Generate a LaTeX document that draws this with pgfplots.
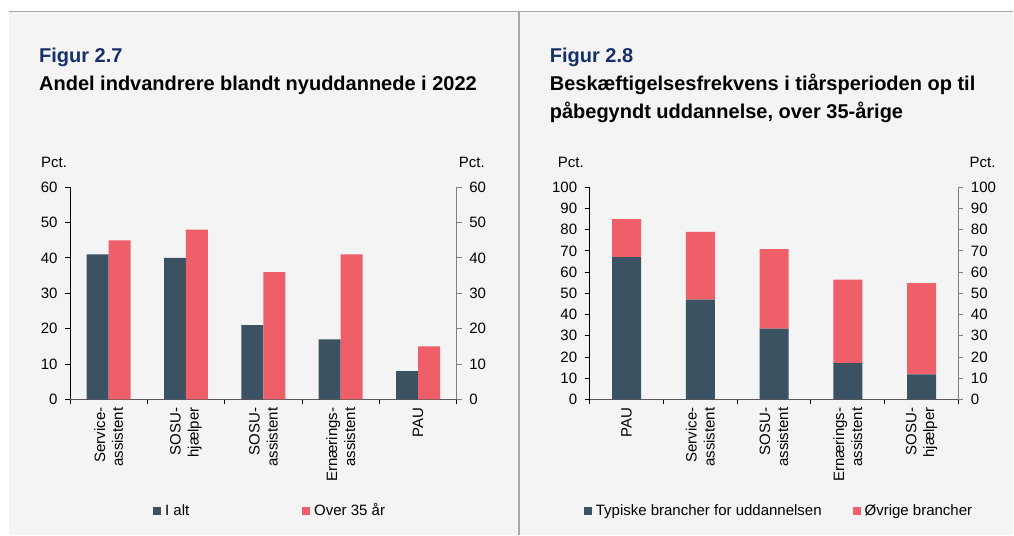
\documentclass[border=0pt]{standalone}
\usepackage{fontspec}
\setmainfont{Liberation Sans}
\usepackage{pgfplots}
\pgfplotsset{compat=1.18}
\definecolor{cdark}{HTML}{3B5262}
\definecolor{cred}{HTML}{EF5F6A}
\definecolor{cbg}{HTML}{F4F4F4}
\definecolor{cframe}{HTML}{A8A8A8}
\definecolor{cnavy}{HTML}{15306B}
\definecolor{caxis}{HTML}{595959}
\definecolor{caxisr}{HTML}{808080}
\pgfplotsset{
  mybase/.style={
    scale only axis, anchor=south west,
    xmin=0.5, xmax=5.5, ymin=0,
    tick align=outside, major tick length=5bp,
    ticklabel style={font=\fontsize{15bp}{18bp}\selectfont},
    /pgf/number format/assume math mode=true,
    tick style={line width=0.9bp},
    axis line style={line width=0.9bp},
  },
  mymain/.style={
    mybase,
    axis x line*=bottom, axis y line*=left,
    x axis line style={draw=caxis},
    y axis line style={draw=black},
    tick style={draw=black},
    yticklabel style={xshift=-4bp},
    xtick={0.5,1.5,2.5,3.5,4.5,5.5}, xticklabels={},
    extra x tick style={major tick length=0pt},
    xticklabel style={rotate=90, anchor=east, align=right, inner sep=0pt, xshift=-8bp},
    legend columns=2,
  },
  myright/.style={
    mybase,
    axis x line=none, axis y line*=right,
    y axis line style={draw=caxisr},
    tick style={draw=caxisr},
    yticklabel style={xshift=4bp},
  },
}
\begin{document}
\begin{tikzpicture}[x=1bp,y=1bp]
\fill[white] (0,0) rectangle (1014,535);
\fill[cbg] (9,0) rectangle (1014,523.5);
\draw[cframe, line width=1.2bp] (9,523.5) -- (1014,523.5);
\draw[cframe, line width=1.2bp] (519.3,0) -- (519.3,523.5);
% titles
\node[anchor=base west, inner sep=0pt, font=\fontsize{20bp}{24bp}\selectfont\bfseries, text=cnavy] at (39,472) {Figur 2.7};
\node[anchor=base west, inner sep=0pt, font=\fontsize{20bp}{24bp}\selectfont\bfseries] at (39,444) {Andel indvandrere blandt nyuddannede i 2022};
\node[anchor=base west, inner sep=0pt, font=\fontsize{20bp}{24bp}\selectfont\bfseries, text=cnavy] at (550,472) {Figur 2.8};
\node[anchor=base west, inner sep=0pt, font=\fontsize{20bp}{24bp}\selectfont\bfseries] at (550,444) {Beskæftigelsesfrekvens i tiårsperioden op til};
\node[anchor=base west, inner sep=0pt, font=\fontsize{20bp}{24bp}\selectfont\bfseries] at (550,416) {påbegyndt uddannelse, over 35-årige};
% Pct labels
\node[anchor=base west, inner sep=0pt, font=\fontsize{15bp}{18bp}\selectfont] at (41,367) {Pct.};
\node[anchor=base west, inner sep=0pt, font=\fontsize{15bp}{18bp}\selectfont] at (459,367) {Pct.};
\node[anchor=base west, inner sep=0pt, font=\fontsize{15bp}{18bp}\selectfont] at (558,367) {Pct.};
\node[anchor=base west, inner sep=0pt, font=\fontsize{15bp}{18bp}\selectfont] at (970,367) {Pct.};

% ---------- Figure 2.7 ----------
\begin{axis}[mymain, at={(70bp,135.3bp)}, width=387bp, height=212.4bp, ymax=60,
  ytick={0,10,...,60},
  extra x ticks={1,2,3,4,5},
  extra x tick labels={{Service-\\assistent},{SOSU-\\hjælper},{SOSU-\\assistent},{Ernærings-\\assistent},{PAU}},
  ybar=0pt, bar width=22bp,
  every axis plot post/.append style={/pgfplots/legend image code/.code={\fill[##1] (0bp,-4bp) rectangle (8bp,4bp);}},
  legend style={at={(0.2145,-0.524)}, anchor=west, draw=none, fill=none, inner sep=0pt,
    nodes={inner sep=0pt, anchor=west}, font=\fontsize{15bp}{18bp}\selectfont,
    /tikz/every odd column/.style={column sep=4bp},
    /tikz/every even column/.style={column sep=113bp}},
]
\addplot[fill=cdark, draw=none] coordinates {(1,41) (2,40) (3,21) (4,17) (5,8)};
\addlegendentry{I alt}
\addplot[fill=cred, draw=none] coordinates {(1,45) (2,48) (3,36) (4,41) (5,15)};
\addlegendentry{Over 35 år}
\end{axis}
\begin{axis}[myright, at={(70bp,135.3bp)}, width=387bp, height=212.4bp, ymax=60,
  ytick={0,10,...,60}]
\end{axis}

% ---------- Figure 2.8 ----------
\begin{axis}[mymain, at={(590bp,135.3bp)}, width=369bp, height=212.4bp, ymax=100,
  ytick={0,10,...,100},
  extra x ticks={1,2,3,4,5},
  extra x tick labels={{PAU},{Service-\\assistent},{SOSU-\\assistent},{Ernærings-\\assistent},{SOSU-\\hjælper}},
  ybar stacked, bar width=29bp,
  every axis plot post/.append style={/pgfplots/legend image code/.code={\fill[##1] (0bp,-4bp) rectangle (8bp,4bp);}},
  legend style={at={(-0.01626,-0.524)}, anchor=west, draw=none, fill=none, inner sep=0pt,
    nodes={inner sep=0pt, anchor=west}, font=\fontsize{15bp}{18bp}\selectfont,
    /tikz/every odd column/.style={column sep=4bp},
    /tikz/every even column/.style={column sep=31bp}},
]
\addplot[fill=cdark, draw=none] coordinates {(1,67) (2,47) (3,33.4) (4,17.1) (5,11.8)};
\addlegendentry{Typiske brancher for uddannelsen}
\addplot[fill=cred, draw=none] coordinates {(1,18) (2,32) (3,37.4) (4,39.3) (5,43)};
\addlegendentry{Øvrige brancher}
\end{axis}
\begin{axis}[myright, at={(590bp,135.3bp)}, width=369bp, height=212.4bp, ymax=100,
  ytick={0,10,...,100}]
\end{axis}
\end{tikzpicture}
\end{document}
